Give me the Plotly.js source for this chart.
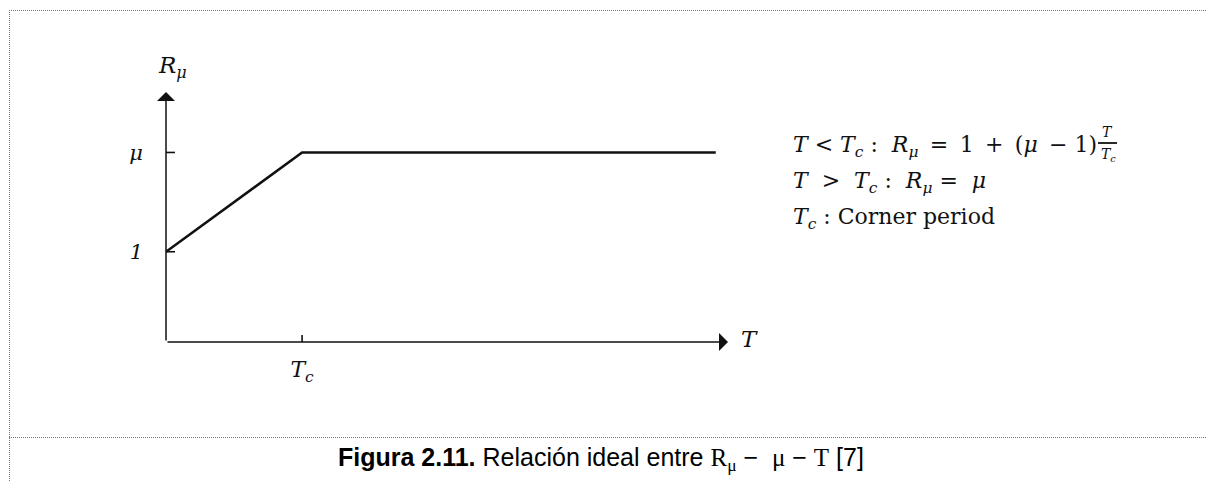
<!DOCTYPE html>
<html>
<head>
<meta charset="utf-8">
<script src="https://cdn.plot.ly/plotly-3.0.1.min.js"></script>
<style>
  html, body { margin: 0; padding: 0; background: #fff; overflow: hidden; }
  #wrap { position: relative; width: 1206px; height: 481px; overflow: hidden; }
  #frame { position: absolute; left: 9px; top: 10px; width: 1197px; height: 471px;
           border-top: 1px dotted #777; border-left: 1px dotted #777; box-sizing: border-box; }
  #divider { position: absolute; left: 9px; top: 437px; width: 1197px; height: 0; border-top: 1px dotted #777; }
  #chart { position: absolute; left: 0; top: 0; width: 1206px; height: 481px; }
</style>
</head>
<body>
<div id="wrap">
  <div id="frame"></div>
  <div id="divider"></div>
  <div id="chart"></div>
</div>
<script>
// Idealised strength-reduction factor R_mu versus period T
var periodT   = [0, 1, 4.04];        // T (in units of the corner period Tc)
var reduction = [1, 2.1, 2.1];       // R_mu: rises from 1 to mu, then constant
var yTickVals = [1, 2.1];
var yTickText = ['<i>1</i>', '<i>μ</i>'];
var xTickVals = [1];
var xTickText = ['<i>T<sub>c</sub></i>'];
var xMax = 4.13, yMax = 2.77;

var serif = '"DejaVu Serif", "Liberation Serif", serif';
var ink = '#111';
var sp = '\u2009';   // thin space for math spacing

// plot-area geometry in pixels, used to place free text
var L = 166, R = 478, T = 92, B = 139, W = 1206, H = 481;
var pw = W - L - R, ph = H - T - B;
function px(x) { return (x - L) / pw; }
function py(y) { return (H - B - y) / ph; }

function label(x, y, text, size, extra) {
  var a = { x: px(x), y: py(y), xref: 'paper', yref: 'paper', showarrow: false,
    xanchor: 'center', yanchor: 'middle', text: text,
    font: { family: serif, size: size, color: ink } };
  for (var k in (extra || {})) a[k] = extra[k];
  return a;
}

var trace = {
  x: periodT, y: reduction, mode: 'lines', type: 'scatter',
  line: { color: ink, width: 2.6 }, hoverinfo: 'skip', showlegend: false, cliponaxis: false
};

// small tick marks that cross the axes
var shapes = [];
yTickVals.forEach(function (v) {
  shapes.push({ type: 'line', xref: 'x', yref: 'y', xsizemode: 'pixel', xanchor: 0,
    x0: -9, x1: 9, y0: v, y1: v, line: { color: ink, width: 1.6 } });
});
xTickVals.forEach(function (v) {
  shapes.push({ type: 'line', xref: 'x', yref: 'y', ysizemode: 'pixel', yanchor: 0,
    x0: v, x1: v, y0: -7, y1: 7, line: { color: ink, width: 1.6 } });
});
// fraction bar of T / Tc
shapes.push({ type: 'line', xref: 'paper', yref: 'paper',
  x0: px(1098), x1: px(1117), y0: py(143), y1: py(143), line: { color: ink, width: 1.8 } });

var annotations = [
  // axes with arrowheads
  { x: xMax, y: 0, ax: 0, ay: 0, xref: 'x', yref: 'y', axref: 'x', ayref: 'y', text: '',
    showarrow: true, arrowhead: 1, arrowsize: 2, arrowwidth: 1.5, arrowcolor: ink, standoff: 0 },
  { x: 0, y: yMax, ax: 0, ay: 0, xref: 'x', yref: 'y', axref: 'x', ayref: 'y', text: '',
    showarrow: true, arrowhead: 1, arrowsize: 2, arrowwidth: 1.5, arrowcolor: ink, standoff: 0 },
  // axis names
  label(172, 67, '<i>R<sub>μ</sub></i>', 23),
  label(749, 339, '<i>T</i>', 23),
  // relations on the right
  label(791, 146, '<i>T</i> < <i>T<sub>c</sub></i> :  <i>R<sub>μ</sub></i> ' + sp + '= ' + sp + '1 ' + sp + '+ ' + sp + '(<i>μ</i> ' + sp + '− 1)', 22, { xanchor: 'left' }),
  label(1107, 132, '<i>T</i>', 14),
  label(1108, 155, '<i>T<sub>c</sub></i>', 14),
  label(791, 182, '<i>T</i>  >  <i>T<sub>c</sub></i> :  <i>R<sub>μ</sub></i> =  <i>μ</i>', 22, { xanchor: 'left' }),
  label(791, 218, '<i>T<sub>c</sub></i> : Corner period', 22, { xanchor: 'left' }),
  // caption
  label(601, 459,
    '<b>Figura 2.11.</b> Relación ideal entre <span style="font-family:Liberation Serif">R<sub>μ</sub></span> −  <span style="font-family:Liberation Serif">μ</span> − <span style="font-family:Liberation Serif">T</span> [7]',
    25, { font: { family: 'Liberation Sans, Arial, sans-serif', size: 25, color: '#000' } })
];

var layout = {
  width: W, height: H,
  margin: { l: L, r: R, t: T, b: B, pad: 0 },
  paper_bgcolor: 'rgba(0,0,0,0)', plot_bgcolor: 'rgba(0,0,0,0)',
  xaxis: { range: [0, xMax], showgrid: false, zeroline: false, showline: false,
    tickvals: xTickVals, ticktext: xTickText, ticks: '', ticklabelstandoff: 12,
    tickfont: { family: serif, size: 22, color: ink }, fixedrange: true },
  yaxis: { range: [0, yMax], showgrid: false, zeroline: false, showline: false,
    tickvals: yTickVals, ticktext: yTickText, ticks: '', ticklabelstandoff: 22,
    tickfont: { family: serif, size: 21, color: ink }, fixedrange: true },
  shapes: shapes,
  annotations: annotations
};

Plotly.newPlot('chart', [trace], layout, { displayModeBar: false, staticPlot: true });
</script>
</body>
</html>
